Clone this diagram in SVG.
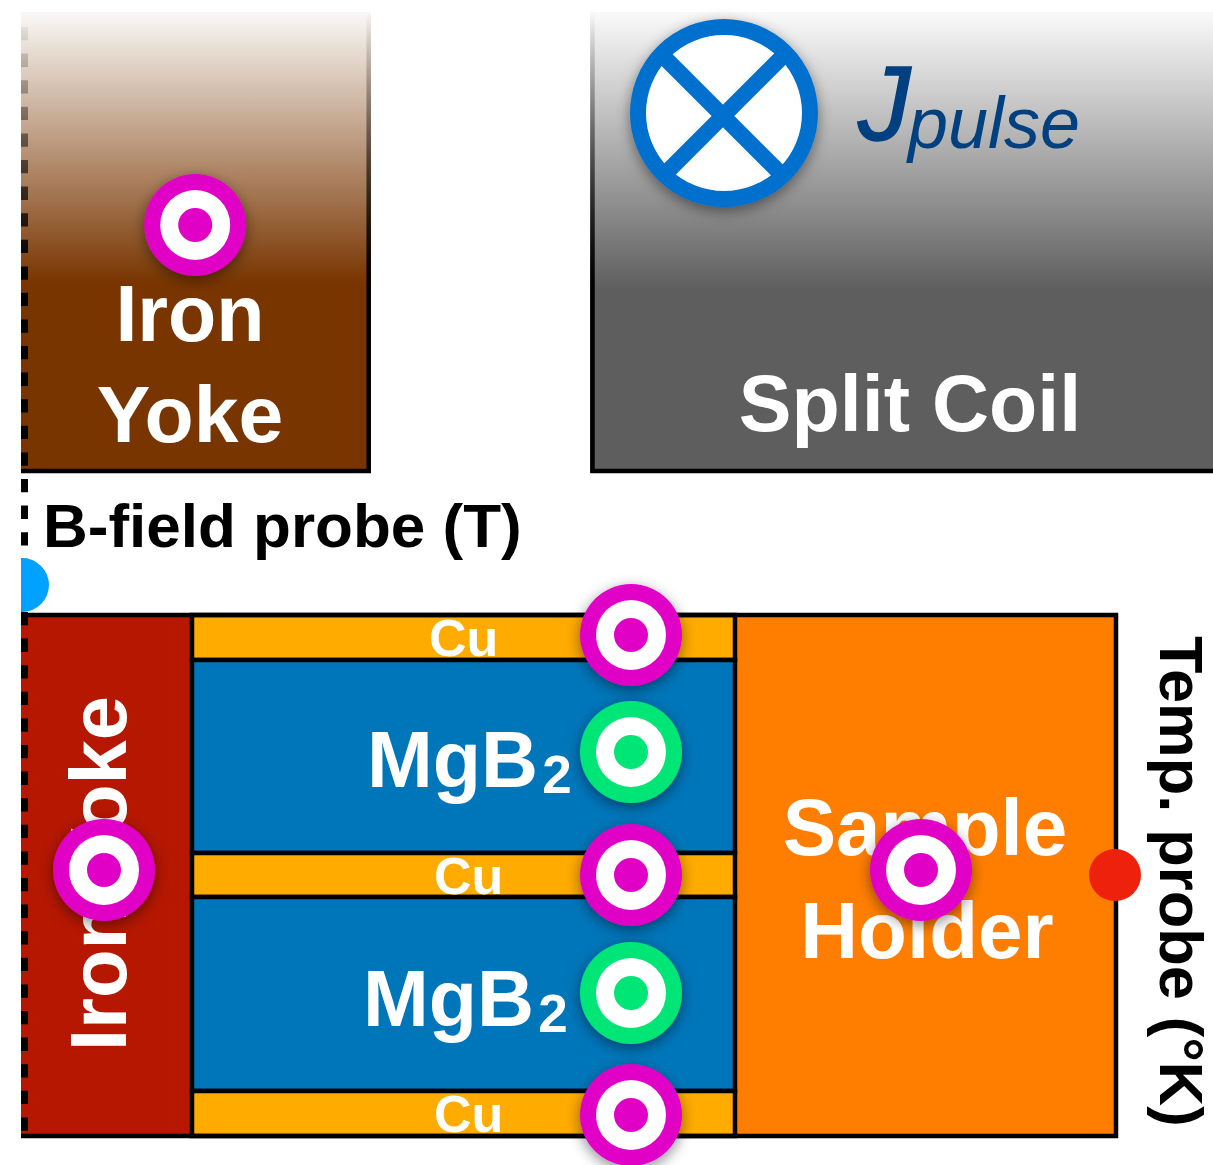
<svg xmlns="http://www.w3.org/2000/svg" xmlns:xlink="http://www.w3.org/1999/xlink" width="1213" height="1165" viewBox="0 0 1213 1165">
<style>
text{font-family:"Liberation Sans",Arial,sans-serif;font-weight:700}
.w{fill:#fff}
.k{fill:#000}
.m{text-anchor:middle}
.j{fill:#004080;font-style:italic;font-weight:400}
.box{stroke:#000;stroke-width:4.5}
</style>
<defs>
<linearGradient id="gb" gradientUnits="userSpaceOnUse" x1="0" y1="12" x2="0" y2="283"><stop offset="0" stop-color="#faf8f6"/><stop offset="1" stop-color="#783500"/></linearGradient>
<linearGradient id="gg" gradientUnits="userSpaceOnUse" x1="0" y1="12" x2="0" y2="290"><stop offset="0" stop-color="#fafafa"/><stop offset="1" stop-color="#5e5e5e"/></linearGradient>
<linearGradient id="gs" gradientUnits="userSpaceOnUse" x1="0" y1="12" x2="0" y2="283"><stop offset="0" stop-color="#000" stop-opacity="0"/><stop offset="1" stop-color="#000"/></linearGradient>
<filter id="sh" x="-40%" y="-40%" width="180%" height="180%"><feDropShadow dx="0" dy="4" stdDeviation="7" flood-color="#000" flood-opacity=".45"/></filter>
<clipPath id="cl"><rect x="21" y="500" width="100" height="150"/></clipPath>
<g id="tm"><circle r="51" fill="#e100c6" filter="url(#sh)"/><circle r="35" fill="#fff"/><circle r="17" fill="#e100c6"/></g>
<g id="tg"><circle r="51" fill="#00e676" filter="url(#sh)"/><circle r="35" fill="#fff"/><circle r="17" fill="#00e676"/></g>
</defs>
<g id="iron-yoke-top">
<rect x="21" y="12" width="350" height="461" fill="url(#gb)"/>
<path d="M368.700 12V471H21" fill="none" stroke="url(#gs)" stroke-width="4.500"/>
<text class="w m" x="190" y="341" font-size="79">Iron</text>
<text class="w m" x="190" y="442" font-size="80.500">Yoke</text>
</g>
<g id="split-coil">
<rect x="590" y="12" width="623" height="461" fill="url(#gg)"/>
<path d="M592.500 12V471H1213" fill="none" stroke="url(#gs)" stroke-width="4.500"/>
<text class="w m" x="910" y="431" font-size="79">Split Coil</text>
</g>
<g id="current-symbol" filter="url(#sh)">
<circle cx="724" cy="113" r="86" fill="#fff" stroke="#0070cf" stroke-width="16"/>
<path d="M662 55L782 175M785 54L665 174" stroke="#0070cf" stroke-width="16" fill="none"/>
</g>
<g id="j-pulse">
<text class="j" x="858" y="140" font-size="105" stroke="#004080" stroke-width="1.500">J</text>
<text class="j" x="908" y="148" font-size="72">pulse</text>
</g>
<text id="b-label" class="k" x="43" y="547" font-size="62">B-field probe (T)</text>
<g id="sample-stack">
<rect x="21" y="615" width="1096" height="521" fill="#ff7e00"/>
<rect x="21" y="615" width="171" height="521" fill="#b51700"/>
<rect class="box" x="192" y="615" width="543" height="45" fill="#ffab00"/>
<rect class="box" x="192" y="660" width="543" height="193" fill="#0076ba"/>
<rect class="box" x="192" y="853" width="543" height="44" fill="#ffab00"/>
<rect class="box" x="192" y="897" width="543" height="194" fill="#0076ba"/>
<rect class="box" x="192" y="1091" width="543" height="45" fill="#ffab00"/>
<path d="M21 615H1116V1136H21" fill="none" stroke="#000" stroke-width="4.500"/>
<text class="w" x="429" y="656" font-size="52">Cu</text>
<text class="w" x="434" y="894" font-size="52">Cu</text>
<text class="w" x="434" y="1132" font-size="52">Cu</text>
<text class="w" x="367" y="787" font-size="79">MgB<tspan font-size="53" dx="4" dy="6">2</tspan></text>
<text class="w" x="363" y="1026" font-size="79">MgB<tspan font-size="53" dx="4" dy="6">2</tspan></text>
<text class="w m" x="925" y="855" font-size="80">Sample</text>
<text class="w m" x="927" y="958" font-size="80">Holder</text>
<text class="w" transform="translate(126 1051) rotate(-90)" font-size="79.500">Iron Yoke</text>
</g>
<g id="connectors">
<line x1="24.500" y1="27" x2="24.500" y2="290" stroke="url(#gs)" stroke-width="7" stroke-dasharray="13.300 13.300"/>
<line x1="24.500" y1="292.800" x2="24.500" y2="1137" stroke="#000" stroke-width="7" stroke-dasharray="13.300 13.300"/>
</g>
<circle id="b-probe" cx="22" cy="585" r="27" fill="#00a2ff" clip-path="url(#cl)"/>
<use id="t1" xlink:href="#tm" x="195.200" y="225"/>
<use id="t2" xlink:href="#tm" x="631" y="635"/>
<use id="t3" xlink:href="#tg" x="631" y="752"/>
<use id="t4" xlink:href="#tm" x="631" y="875"/>
<use id="t5" xlink:href="#tg" x="631" y="993"/>
<use id="t6" xlink:href="#tm" x="631" y="1115"/>
<use id="t7" xlink:href="#tm" x="104" y="870"/>
<use id="t8" xlink:href="#tm" x="921" y="870"/>
<circle id="t-probe" cx="1115" cy="875" r="26" fill="#ee220c"/>
<text id="t-label" class="k" transform="translate(1160 636) rotate(90)" font-size="61.400">Temp. probe (°K)</text>
</svg>
